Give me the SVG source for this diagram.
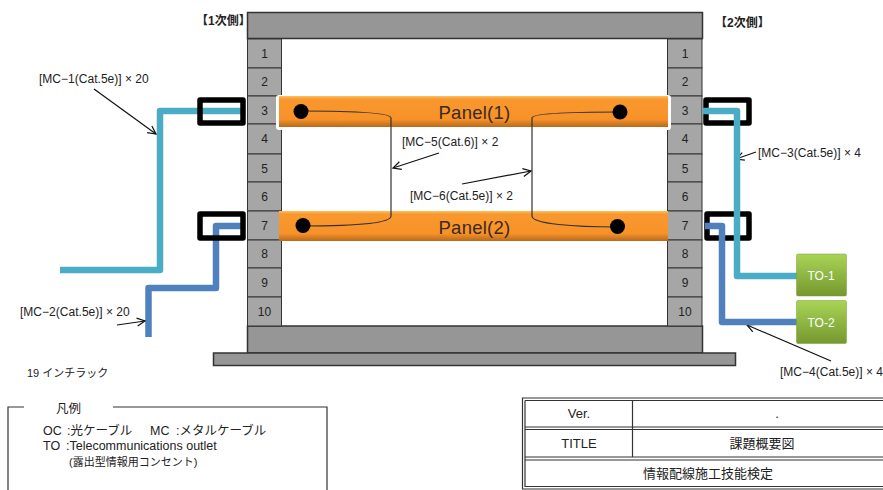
<svg xmlns="http://www.w3.org/2000/svg" width="883" height="490" viewBox="0 0 883 490">
<style>
text{font-family:"Liberation Sans","Noto Sans CJK JP",sans-serif;fill:#222}
.rack{fill:#969696;stroke:#333;stroke-width:1.5}
.u{fill:#a6a6a6;stroke:#333;stroke-width:1}
.n{font-size:12px;text-anchor:middle}
.l{font-size:12px;letter-spacing:.02px}
.panel{stroke:none;fill:url(#og)}
.pt{font-size:18.5px;text-anchor:middle;fill:#3a2a20;letter-spacing:.25px}
.box{fill:none;stroke:#000;stroke-width:5.5;stroke-linejoin:round}
.cable{fill:none;stroke-width:6.5;stroke-linejoin:round}
.teal{stroke:#4bacc6}.blue{stroke:#4f81bd}
.wire{fill:none;stroke:#333;stroke-width:1.2}
.ld{fill:none;stroke:#111;stroke-width:1.2;marker-end:url(#a)}
.to{fill:url(#gg);stroke:#7d9b3a;stroke-width:.5}
.tot{font-size:12px;text-anchor:middle;fill:#fff}
.f{fill:none;stroke:#333;stroke-width:1.2}
.t{font-size:13px;text-anchor:middle}
.lg{font-size:12.5px}
</style>
<defs>
<linearGradient id="og" x1="0" y1="0" x2="0" y2="1"><stop offset="0" stop-color="#fdc15f"/><stop offset=".1" stop-color="#f9982e"/><stop offset=".75" stop-color="#f79229"/><stop offset="1" stop-color="#b86a1c"/></linearGradient>
<linearGradient id="gg" x1="0" y1="0" x2="0" y2="1"><stop offset="0" stop-color="#a8d455"/><stop offset="1" stop-color="#76982f"/></linearGradient>
<marker id="a" markerWidth="12" markerHeight="12" refX="10" refY="5" orient="auto" markerUnits="userSpaceOnUse"><path d="M2 1L10 5L2 9" fill="none" stroke="#111" stroke-width="1.2"/></marker>
</defs>
<g id="rack">
<rect class="rack" x="247.500" y="12.500" width="455" height="26"/>
<rect class="rack" x="247.500" y="326" width="455" height="27"/>
<rect class="rack" x="213.500" y="353" width="522" height="12.500"/>
</g>
<g id="rack-left">
<rect class="u" x="247.500" y="39" width="34" height="29"/><rect class="u" x="247.500" y="68" width="34" height="28"/><rect class="u" x="247.500" y="96" width="34" height="28"/><rect class="u" x="247.500" y="124" width="34" height="30"/><rect class="u" x="247.500" y="154" width="34" height="28"/><rect class="u" x="247.500" y="182" width="34" height="29"/><rect class="u" x="247.500" y="211" width="34" height="29"/><rect class="u" x="247.500" y="240" width="34" height="28"/><rect class="u" x="247.500" y="268" width="34" height="29"/><rect class="u" x="247.500" y="297" width="34" height="29"/>
<text class="n" x="264.500" y="58">1</text><text class="n" x="264.500" y="86">2</text><text class="n" x="264.500" y="115">3</text><text class="n" x="264.500" y="143">4</text><text class="n" x="264.500" y="173">5</text><text class="n" x="264.500" y="201">6</text><text class="n" x="264.500" y="230">7</text><text class="n" x="264.500" y="258">8</text><text class="n" x="264.500" y="287">9</text><text class="n" x="264.500" y="316">10</text>
</g>
<g id="rack-right">
<rect class="u" x="667.500" y="39" width="34.500" height="29"/><rect class="u" x="667.500" y="68" width="34.500" height="28"/><rect class="u" x="667.500" y="96" width="34.500" height="28"/><rect class="u" x="667.500" y="124" width="34.500" height="30"/><rect class="u" x="667.500" y="154" width="34.500" height="28"/><rect class="u" x="667.500" y="182" width="34.500" height="29"/><rect class="u" x="667.500" y="211" width="34.500" height="29"/><rect class="u" x="667.500" y="240" width="34.500" height="28"/><rect class="u" x="667.500" y="268" width="34.500" height="29"/><rect class="u" x="667.500" y="297" width="34.500" height="29"/>
<text class="n" x="685" y="58">1</text><text class="n" x="685" y="86">2</text><text class="n" x="685" y="115">3</text><text class="n" x="685" y="143">4</text><text class="n" x="685" y="173">5</text><text class="n" x="685" y="201">6</text><text class="n" x="685" y="230">7</text><text class="n" x="685" y="258">8</text><text class="n" x="685" y="287">9</text><text class="n" x="685" y="316">10</text>
</g>
<g id="panel-1"><rect x="276" y="95" width="395" height="35" rx="3" fill="#fff"/><rect class="panel" x="279" y="96" width="389" height="31"/><text class="pt" x="474.500" y="119">Panel(1)</text></g>
<g id="panel-2"><rect class="panel" x="279" y="211" width="389" height="30"/><text class="pt" x="474.500" y="234">Panel(2)</text></g>
<g id="connectors">
<path class="cable teal" d="M60 270H160V111H241"/>
<path class="cable blue" d="M148.500 337V288H216V226H241"/>
<path class="wire" d="M301 111C345 111 391 112 391 118V216C391 224 345 226 303 226"/>
<path class="wire" d="M620 112C575 112 532 113 532 118V216C532 224 575 227 617 227"/>
<path class="ld" d="M94 89L156 134"/>
<path class="ld" d="M439 153L393 168"/>
<path class="ld" d="M462 184L531 171"/>
<path class="ld" d="M117 325L145 321"/>
<path class="ld" d="M756 152L736 159"/>
<path class="ld" d="M831 361L747 325"/>
</g>
<g id="port-boxes">
<rect class="box" x="200" y="100" width="43" height="23"/>
<rect class="box" x="200" y="214" width="43" height="24"/>
<rect class="box" x="706" y="100" width="43" height="23"/>
<rect class="box" x="707" y="214" width="42" height="24"/>
</g>
<g id="connectors-right">
<path class="cable teal" d="M703 111H737V276H797"/>
<path class="cable blue" d="M705 226H722V322H797"/>
</g>
<g id="dots"><circle cx="301" cy="111.500" r="7.500"/><circle cx="303" cy="225.500" r="7.500"/><circle cx="620" cy="112" r="7.500"/><circle cx="617.500" cy="226.500" r="7.500"/></g>
<g id="to-1"><rect class="to" x="796.500" y="254" width="50" height="42" rx="1.500"/><text class="tot" x="821" y="280">TO-1</text></g>
<g id="to-2"><rect class="to" x="796.500" y="300.500" width="50" height="43" rx="1.500"/><text class="tot" x="821" y="327">TO-2</text></g>
<g id="labels">
<text x="196" y="25" font-size="12" font-weight="bold">【1次側】</text>
<text x="715" y="27" font-size="12" font-weight="bold">【2次側】</text>
<text class="l" x="39" y="83">[MC−1(Cat.5e)] × 20</text>
<text class="l" x="402" y="146">[MC−5(Cat.6)] × 2</text>
<text class="l" x="410" y="200">[MC−6(Cat.5e)] × 2</text>
<text class="l" x="20" y="316">[MC−2(Cat.5e)] × 20</text>
<text class="l" x="758" y="157">[MC−3(Cat.5e)] × 4</text>
<text class="l" x="780" y="376">[MC−4(Cat.5e)] × 4</text>
<text x="27" y="377" font-size="11">19 インチラック</text>
</g>
<g id="legend">
<path class="f" d="M24 407H8V490M113 407H327V490"/>
<text x="56" y="413" font-size="12.500">凡例</text>
<text class="lg" x="43" y="435">OC</text><text class="lg" x="67" y="435">:光ケーブル</text><text class="lg" x="150" y="435">MC</text><text class="lg" x="176" y="435">:メタルケーブル</text>
<text class="lg" x="43" y="450">TO</text><text class="lg" x="66" y="450" font-size="12">:Telecommunications outlet</text>
<text x="69" y="466" font-size="11">(露出型情報用コンセント)</text>
</g>
<g id="title-block">
<path class="f" d="M883 398H522.500V489H883M525 400.500H883M525 400.500V486.500H883M525 427H883M525 429.500H883M525 457H883M525 460H883M632.500 400.500V457"/>
<text class="t" x="579" y="418">Ver.</text>
<text class="t" x="579" y="448">TITLE</text>
<text class="t" x="762" y="448">課題概要図</text>
<text class="t" x="708" y="478">情報配線施工技能検定</text>
<text class="t" x="777" y="418" fill="#999" font-size="8">.</text>
</g>
</svg>
